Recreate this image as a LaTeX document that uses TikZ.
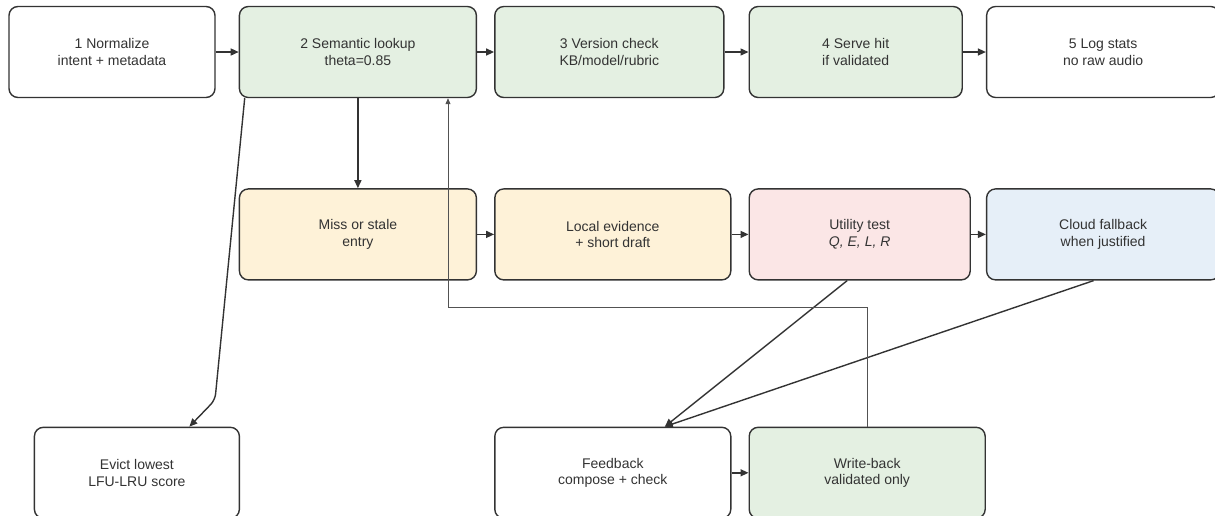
\documentclass[tikz,border=0pt]{standalone}
\usepackage{fontspec}
\setmainfont{Liberation Sans}
\usetikzlibrary{arrows.meta, positioning}
\usepackage{xcolor}

\definecolor{edgegray}{HTML}{333333}
\definecolor{textgray}{HTML}{333333}
\definecolor{hitgreen}{HTML}{E4F0E2}
\definecolor{missyellow}{HTML}{FEF2D8}
\definecolor{testpink}{HTML}{FBE6E6}
\definecolor{cloudblue}{HTML}{E6EFF8}

\begin{document}
\begin{tikzpicture}[
    x=1pt, y=1pt,
    node distance=17pt and 17pt,
    box/.style={
        draw=edgegray,
        fill=white,
        rounded corners=9pt,
        align=center,
        minimum height=91pt,
        inner sep=0pt,
        text=textgray,
        font=\fontsize{14}{16.5}\selectfont,
        line width=1.4pt
    },
    hit/.style={box, fill=hitgreen},
    miss/.style={box, fill=missyellow},
    test/.style={box, fill=testpink},
    cloud/.style={box, fill=cloudblue},
    arrow/.style={
        -{Triangle[length=8pt,width=7pt]},
        line width=1.4pt,
        draw=edgegray
    },
    backarrow/.style={
        -{Triangle[length=6pt,width=5pt]},
        line width=0.9pt,
        draw=edgegray!85
    }
]
\useasboundingbox (0,0) rectangle (1215,-515);

% Nodes
\node (norm) [box, minimum width=206pt] at (112,-52) {1 Normalize\\intent + metadata};
\node (lookup) [hit, minimum width=237pt, right=23pt of norm] {2 Semantic lookup\\theta=0.85};
\node (version) [hit, minimum width=229pt, right=17pt of lookup] {3 Version check\\KB/model/rubric};
\node (serve) [hit, minimum width=213pt, right=24pt of version] {4 Serve hit\\if validated};
\node (logstats) [box, minimum width=233pt, right=23pt of serve] {5 Log stats\\no raw audio};

\node (stale) [miss, minimum width=237pt, below=90pt of lookup] {Miss or stale\\entry};
\node (local) [miss, minimum width=236pt, right=17pt of stale] {Local evidence\\+ short draft};
\node (utility) [test, minimum width=221pt, right=17pt of local] {Utility test\\{\itshape Q, E, L, R}};
\node (fallback) [cloud, minimum width=233pt, right=15pt of utility] {Cloud fallback\\when justified};

\node (feedback) [box, minimum width=236pt, below=146pt of local] {Feedback\\compose + check};
\node (writeback) [hit, minimum width=236pt, right=17pt of feedback] {Write-back\\validated only};
\node (evict) [box, minimum width=205pt, left=254pt of feedback] {Evict lowest\\LFU-LRU score};

% Paths
\draw [arrow] (norm) -- (lookup);
\draw [arrow] (lookup) -- (version);
\draw [arrow] (version) -- (serve);
\draw [arrow] (serve) -- (logstats);
\draw [arrow] (lookup) -- (stale);
\draw [arrow] (stale) -- (local);
\draw [arrow] (local) -- (utility);
\draw [arrow] (utility) -- (fallback);
\draw [arrow] (feedback) -- (writeback);

\coordinate (evbend) at (215,-400);
\draw [arrow, rounded corners=6pt] ([xshift=6pt]lookup.south west) -- (evbend) -- ([xshift=52.5pt]evict.north);

\draw [arrow] ([xshift=-12.5pt]utility.south) -- ([xshift=52pt]feedback.north);
\draw [arrow] ([xshift=-9.5pt]fallback.south) -- ([xshift=52pt]feedback.north);

% write-back goes back to the lookup
\coordinate (retturn) at (448,-307);
\draw [backarrow] (writeback.north) |- (retturn) -- (retturn |- lookup.south);

\end{tikzpicture}
\end{document}
